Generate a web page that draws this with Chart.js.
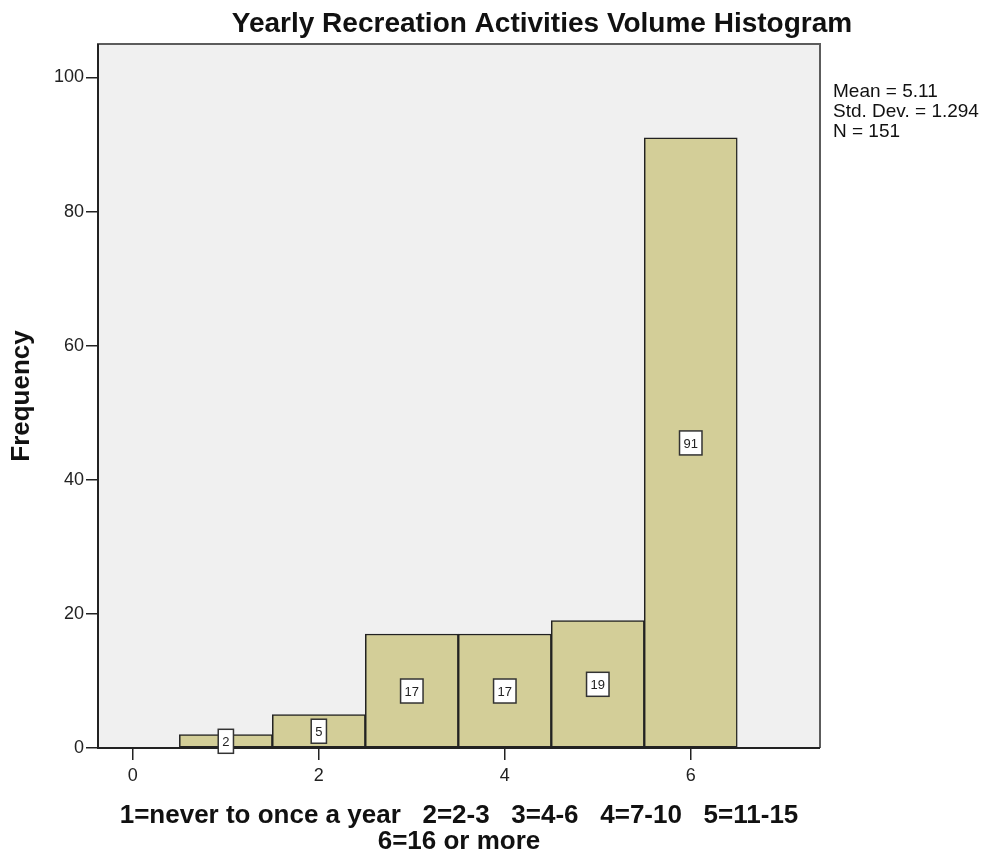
<!DOCTYPE html>
<html>
<head>
<meta charset="utf-8">
<script src="https://cdn.jsdelivr.net/npm/chart.js@4.4.1/dist/chart.umd.min.js"></script>
<style>
  html, body { margin: 0; padding: 0; background: #fff; }
  #wrap { width: 985px; height: 855px; position: relative; }
</style>
</head>
<body>
<div id="wrap"><canvas id="histChart"></canvas></div>
<script>
// histogram bins (response codes) and their counts
const binValues = [1, 2, 3, 4, 5, 6];
const frequencies = [2, 5, 17, 17, 19, 91];
const xTickValues = [0, 2, 4, 6];
const yTickValues = [0, 20, 40, 60, 80, 100];
const statsLines = ['Mean = 5.11', 'Std. Dev. = 1.294', 'N = 151'];
const chartTitle = 'Yearly Recreation Activities Volume Histogram';
const xTitleLines = ['1=never to once a year   2=2-3   3=4-6   4=7-10   5=11-15', '6=16 or more'];

const FONT = '"Liberation Sans", Arial, sans-serif';

const frame = {
    id: 'frame',
    beforeDraw(chart) {
        const {ctx, chartArea: a} = chart;
        ctx.save();
        ctx.fillStyle = '#f0f0f0';
        ctx.fillRect(a.left, a.top, a.right - a.left, a.bottom - a.top);
        ctx.restore();
    },
    afterDatasetsDraw(chart) {
        const {ctx, chartArea: a} = chart;
        ctx.save();
        ctx.strokeStyle = '#5c5c5c';
        ctx.lineWidth = 2;
        ctx.beginPath();
        ctx.moveTo(a.left, a.bottom);
        ctx.lineTo(a.left, a.top);
        ctx.lineTo(a.right, a.top);
        ctx.lineTo(a.right, a.bottom);
        ctx.stroke();
        // left axis and baseline a bit darker
        ctx.strokeStyle = '#222';
        ctx.beginPath();
        ctx.moveTo(a.left, a.top);
        ctx.lineTo(a.left, a.bottom);
        ctx.lineTo(a.right, a.bottom);
        ctx.stroke();

        // value boxes in the middle of each bar
        const yScale = chart.scales.y;
        const meta = chart.getDatasetMeta(0);
        ctx.font = '13px ' + FONT;
        ctx.textAlign = 'center';
        ctx.textBaseline = 'middle';
        meta.data.forEach((bar, i) => {
            const v = frequencies[i];
            const cy = yScale.getPixelForValue(v / 2);
            const w = ctx.measureText(String(v)).width + 8;
            const h = 24;
            ctx.fillStyle = '#fff';
            ctx.fillRect(bar.x - w / 2, cy - h / 2, w, h);
            ctx.strokeStyle = '#333';
            ctx.lineWidth = 1.5;
            ctx.strokeRect(bar.x - w / 2, cy - h / 2, w, h);
            ctx.fillStyle = '#222';
            ctx.fillText(String(v), bar.x, cy + 1);
        });

        // chart title
        ctx.fillStyle = '#111';
        ctx.font = 'bold 28px ' + FONT;
        ctx.textAlign = 'center';
        ctx.textBaseline = 'alphabetic';
        ctx.fillText(chartTitle, 542, 32);

        // summary statistics
        ctx.font = '19px ' + FONT;
        ctx.textAlign = 'left';
        statsLines.forEach((s, i) => ctx.fillText(s, 833, 97 + i * 20));
        ctx.restore();
    }
};

const ctx = document.getElementById('histChart').getContext('2d');
const histChart = new Chart(ctx, {
    type: 'bar',
    data: {
        datasets: [{
            data: binValues.map((b, i) => ({x: b, y: frequencies[i]})),
            backgroundColor: '#d3ce98',
            borderColor: '#222',
            borderWidth: 1.5,
            borderSkipped: false,
            barPercentage: 1,
            categoryPercentage: 1
        }]
    },
    options: {
        responsive: true,
        maintainAspectRatio: false,
        animation: false,
        layout: {
            padding: {top: 44, right: 165, bottom: 0, left: 0}
        },
        plugins: {
            legend: {display: false},
            tooltip: {enabled: false}
        },
        scales: {
            x: {
                type: 'linear',
                offset: false,
                min: -0.375,
                max: 7.39,
                afterBuildTicks: (scale) => { scale.ticks = xTickValues.map(v => ({value: v})); },
                afterFit: (scale) => { scale.height = 107; },
                grid: {offset: false, drawOnChartArea: false, drawTicks: true, tickLength: 12, color: '#222', lineWidth: 1.5},
                border: {display: false},
                ticks: {color: '#222', font: {family: FONT, size: 18}, padding: 5, maxRotation: 0},
                title: {
                    display: true,
                    text: xTitleLines,
                    color: '#111',
                    font: {family: FONT, size: 26, weight: 'bold', lineHeight: 1},
                    padding: {top: 0, bottom: 0}
                }
            },
            y: {
                min: 0,
                max: 105,
                afterBuildTicks: (scale) => { scale.ticks = yTickValues.map(v => ({value: v})); },
                afterFit: (scale) => { scale.width = 98; },
                grid: {drawOnChartArea: false, drawTicks: true, tickLength: 12, color: '#222', lineWidth: 1.5},
                border: {display: false},
                ticks: {color: '#222', font: {family: FONT, size: 18}, padding: 2},
                title: {
                    display: true,
                    text: 'Frequency',
                    color: '#111',
                    font: {family: FONT, size: 26, weight: 'bold', lineHeight: 1.2},
                    padding: {top: 6, bottom: 0}
                }
            }
        }
    },
    plugins: [frame]
});
</script>
</body>
</html>
